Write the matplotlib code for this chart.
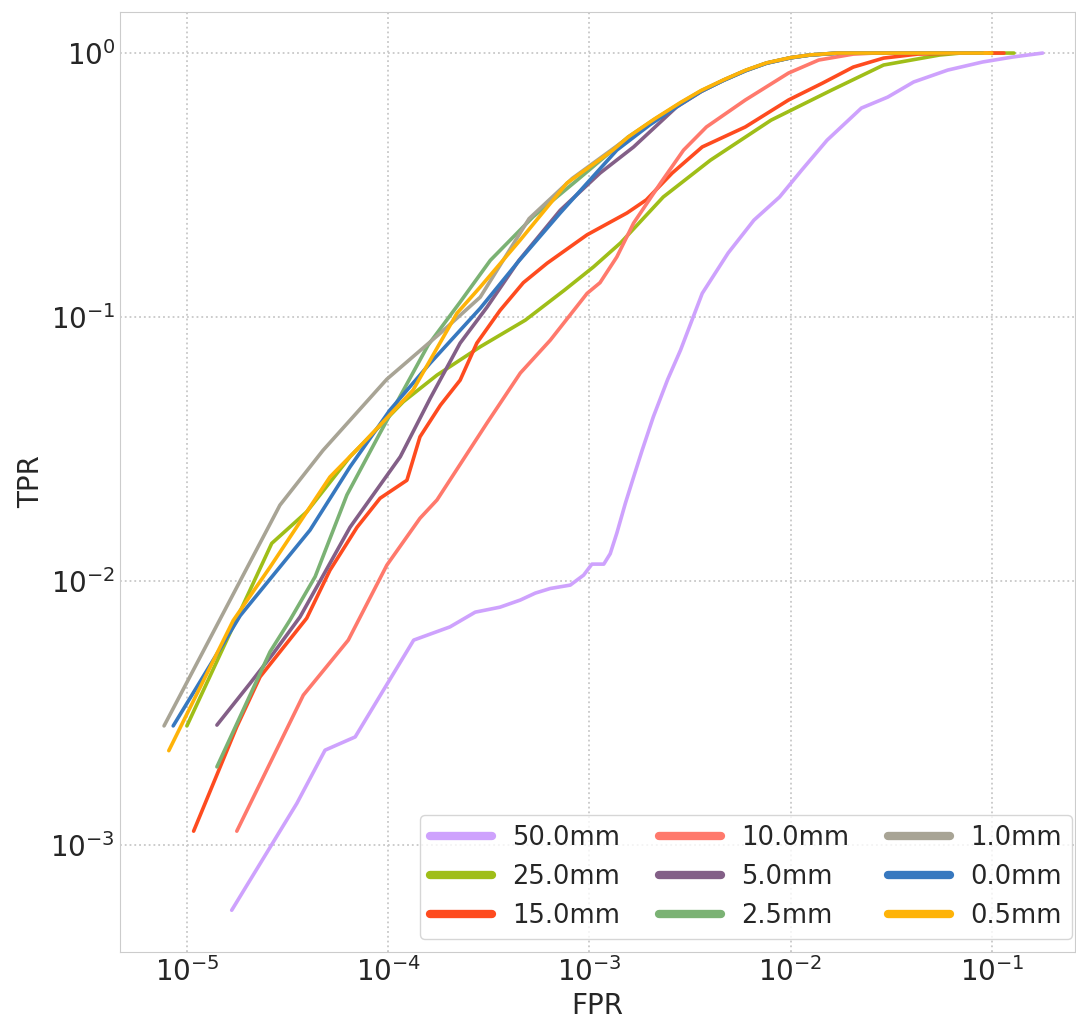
import matplotlib
matplotlib.use("Agg")
import matplotlib.pyplot as plt
import seaborn as sns

# ROC curves per displacement
labels = ["50.0mm", "25.0mm", "15.0mm", "10.0mm", "5.0mm", "2.5mm", "1.0mm", "0.0mm", "0.5mm"]
colors = ["#cea2fd", "#9fbe18", "#fe4b1f", "#ff796c", "#835f87", "#7bb274", "#a8a495", "#3778bf", "#feb308"]

fpr_50 = [1.67e-5, 3.52e-5, 4.86e-5, 6.86e-5, 1.34e-4, 2.03e-4, 2.71e-4, 3.60e-4, 4.54e-4, 5.39e-4,
          6.40e-4, 8.04e-4, 9.37e-4, 1.03e-3, 1.18e-3, 1.27e-3, 1.37e-3, 1.51e-3, 1.66e-3, 1.83e-3,
          2.08e-3, 2.45e-3, 2.84e-3, 3.64e-3, 4.90e-3, 6.58e-3, 8.82e-3, 1.135e-2, 1.52e-2, 2.25e-2,
          3.04e-2, 4.09e-2, 6.04e-2, 9.0e-2, 0.127, 0.179]
tpr_50 = [5.67e-4, 1.44e-3, 2.29e-3, 2.57e-3, 5.98e-3, 6.71e-3, 7.63e-3, 7.97e-3, 8.48e-3, 9.01e-3,
          9.38e-3, 9.66e-3, 1.054e-2, 1.16e-2, 1.16e-2, 1.27e-2, 1.52e-2, 1.97e-2, 2.48e-2, 3.13e-2,
          4.19e-2, 5.8e-2, 7.5e-2, 0.123, 0.175, 0.233, 0.285, 0.360, 0.468, 0.619,
          0.681, 0.777, 0.862, 0.925, 0.966, 1.0]

fpr_25 = [1.0e-5, 2.64e-5, 3.94e-5, 6.47e-5, 1.19e-4, 1.75e-4, 2.87e-4, 4.81e-4, 7.52e-4, 1.05e-3,
          1.43e-3, 2.33e-3, 4.0e-3, 8.0e-3, 1.6e-2, 2.9e-2, 5.5e-2, 7.0e-2, 0.129]
tpr_25 = [2.83e-3, 1.39e-2, 1.83e-2, 2.96e-2, 4.78e-2, 6.03e-2, 7.72e-2, 9.74e-2, 0.1265, 0.155,
          0.191, 0.285, 0.393, 0.557, 0.724, 0.901, 0.983, 1.0, 1.0]

fpr_15 = [1.08e-5, 1.77e-5, 2.31e-5, 3.94e-5, 5.14e-5, 7.01e-5, 9.12e-5, 1.24e-4, 1.44e-4, 1.82e-4,
          2.28e-4, 2.76e-4, 3.60e-4, 4.70e-4, 6.17e-4, 9.75e-4, 1.54e-3, 1.92e-3, 2.58e-3, 3.64e-3,
          5.96e-3, 9.77e-3, 1.44e-2, 2.05e-2, 2.9e-2, 4.28e-2, 7.0e-2, 0.115]
tpr_15 = [1.13e-3, 2.81e-3, 4.34e-3, 7.24e-3, 1.1e-2, 1.6e-2, 2.06e-2, 2.41e-2, 3.52e-2, 4.64e-2,
          5.77e-2, 7.97e-2, 0.106, 0.135, 0.160, 0.205, 0.248, 0.278, 0.351, 0.441,
          0.525, 0.664, 0.769, 0.885, 0.957, 0.991, 1.0, 1.0]

fpr_10 = [1.77e-5, 3.79e-5, 6.34e-5, 9.86e-5, 1.44e-4, 1.75e-4, 3.10e-4, 4.54e-4, 6.40e-4, 9.75e-4,
          1.13e-3, 1.37e-3, 1.66e-3, 2.26e-3, 2.94e-3, 3.82e-3, 5.96e-3, 9.77e-3, 1.38e-2, 2.05e-2,
          2.6e-2, 9.5e-2]
tpr_10 = [1.13e-3, 3.70e-3, 5.98e-3, 1.15e-2, 1.73e-2, 2.03e-2, 3.97e-2, 6.14e-2, 8.18e-2, 0.123,
          0.135, 0.169, 0.227, 0.322, 0.429, 0.525, 0.664, 0.840, 0.941, 0.991,
          1.0, 1.0]

fpr_5 = [1.41e-5, 2.06e-5, 2.69e-5, 3.65e-5, 6.47e-5, 1.15e-4, 1.62e-4, 2.28e-4, 3.10e-4, 4.47e-4,
         7.17e-4, 1.13e-3, 1.66e-3, 2.71e-3, 3.6e-3, 4.65e-3, 6.0e-3, 7.6e-3, 1.0e-2, 1.25e-2,
         1.8e-2, 9.0e-2]
tpr_5 = [2.85e-3, 4.10e-3, 5.33e-3, 7.32e-3, 1.6e-2, 2.96e-2, 4.93e-2, 7.97e-2, 0.109, 0.164,
         0.254, 0.351, 0.441, 0.624, 0.715, 0.790, 0.860, 0.917, 0.960, 0.983,
         1.0, 1.0]

fpr_2_5 = [1.41e-5, 2.59e-5, 3.25e-5, 4.34e-5, 6.24e-5, 9.12e-5, 1.58e-4, 2.28e-4, 3.22e-4, 5.26e-4,
           8.69e-4, 1.56e-3, 2.1e-3, 2.84e-3, 3.6e-3, 4.65e-3, 6.0e-3, 7.6e-3, 1.0e-2, 1.25e-2,
           1.7e-2, 9.0e-2]
tpr_2_5 = [1.98e-3, 5.40e-3, 7.11e-3, 1.04e-2, 2.12e-2, 3.64e-2, 7.83e-2, 0.114, 0.164, 0.240,
           0.330, 0.481, 0.560, 0.647, 0.720, 0.790, 0.860, 0.917, 0.960, 0.983,
           1.0, 1.0]

fpr_1 = [7.7e-6, 2.9e-5, 4.75e-5, 9.86e-5, 1.82e-4, 2.87e-4, 5.02e-4, 8.22e-4, 1.56e-3, 2.1e-3,
         2.84e-3, 3.6e-3, 4.65e-3, 6.0e-3, 7.6e-3, 1.0e-2, 1.25e-2, 1.7e-2, 9.0e-2]
tpr_1 = [2.83e-3, 1.94e-2, 3.13e-2, 5.82e-2, 8.7e-2, 0.119, 0.236, 0.335, 0.478, 0.558,
         0.645, 0.718, 0.788, 0.858, 0.915, 0.959, 0.983, 1.0, 1.0]

fpr_0 = [8.55e-6, 1.84e-5, 4.09e-5, 6.47e-5, 1.02e-4, 1.62e-4, 2.87e-4, 4.37e-4, 7.17e-4, 1.37e-3,
         2.0e-3, 2.84e-3, 3.6e-3, 4.65e-3, 6.0e-3, 7.6e-3, 1.0e-2, 1.25e-2, 1.7e-2, 9.0e-2]
tpr_0 = [2.83e-3, 7.4e-3, 1.56e-2, 2.71e-2, 4.44e-2, 6.7e-2, 0.108, 0.160, 0.248, 0.429,
         0.535, 0.640, 0.716, 0.788, 0.858, 0.915, 0.959, 0.983, 1.0, 1.0]

fpr_0_5 = [8.13e-6, 1.70e-5, 2.59e-5, 5.14e-5, 7.51e-5, 1.33e-4, 2.20e-4, 2.87e-4, 4.54e-4, 7.75e-4,
           1.31e-3, 1.56e-3, 2.1e-3, 2.84e-3, 3.6e-3, 4.65e-3, 6.0e-3, 7.6e-3, 1.0e-2, 1.25e-2,
           1.7e-2, 0.1]
tpr_0_5 = [2.28e-3, 7.1e-3, 1.13e-2, 2.48e-2, 3.33e-2, 5.29e-2, 0.1035, 0.130, 0.196, 0.322,
           0.429, 0.481, 0.562, 0.650, 0.722, 0.792, 0.862, 0.918, 0.961, 0.984,
           1.0, 1.0]

fprs = [fpr_50, fpr_25, fpr_15, fpr_10, fpr_5, fpr_2_5, fpr_1, fpr_0, fpr_0_5]
tprs = [tpr_50, tpr_25, tpr_15, tpr_10, tpr_5, tpr_2_5, tpr_1, tpr_0, tpr_0_5]

sns.set_style("whitegrid", {"grid.linestyle": ":", "axes.edgecolor": "#cccccc"})
plt.rcParams["font.family"] = ["DejaVu Sans"]

fig = plt.figure(figsize=(10.76, 10.21), dpi=100)
ax = fig.add_axes([0.1115, 0.0676, 0.8875, 0.9206])

for fpr, tpr, label, color in zip(fprs, tprs, labels, colors):
    ax.plot(fpr, tpr, label=label, color=color, linewidth=2.6)

ax.set_xscale("log")
ax.set_yscale("log")
ax.set_xlim(4.65e-6, 0.259)
ax.set_ylim(3.94e-4, 1.43)
ax.tick_params(labelsize=20, length=0)
ax.set_xlabel("FPR", fontsize=20)
ax.set_ylabel("TPR", fontsize=20)
ax.grid(True, which="major", linestyle=":", color="#c8c8c8", linewidth=1.3)
ax.grid(False, which="minor")

leg = ax.legend(loc="lower right", bbox_to_anchor=(0.997, 0.014), borderaxespad=0,
                ncol=3, fontsize=18.5, handlelength=2.4, columnspacing=1.5, frameon=True)
for line in leg.get_lines():
    line.set_linewidth(6)

fig.savefig("out.png", dpi=100)
